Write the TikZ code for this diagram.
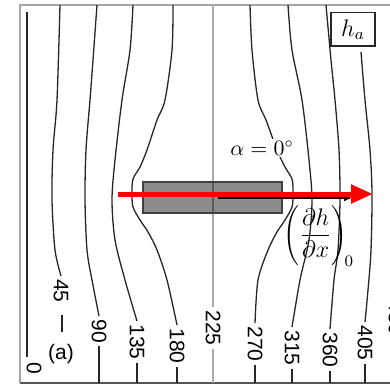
\documentclass[tikz,border=0pt]{standalone}
\usepackage{fontspec}
\setmainfont{Liberation Sans}
\usetikzlibrary{arrows.meta}
\definecolor{framegray}{RGB}{165,165,165}
\definecolor{basegray}{RGB}{85,85,85}
\definecolor{axisgray}{RGB}{170,170,170}
\definecolor{flowred}{RGB}{255,0,0}

\begin{document}
\begin{tikzpicture}[
  x=0.5pt,y=-0.5pt,
  font=\fontsize{10.5}{12}\selectfont,
  contour/.style={draw=black!85,line width=0.65pt},
  axisline/.style={draw=axisgray,line width=1.2pt},
  isolabel/.style={rotate=-90,inner sep=1.5pt},
  slab/.style={rectangle,draw=black!75,line width=0.8pt,fill=black,fill opacity=0.45,
    minimum width=69.5pt,minimum height=15.5pt},
  tagbox/.style={rectangle,draw=black!85,line width=0.8pt,
    minimum width=22pt,minimum height=16.5pt,font=\fontsize{12}{14}\selectfont},
  flow/.style={draw=flowred,line width=2.5pt,-{Triangle[length=11pt,width=9pt]}},
  dirarr/.style={draw=black,line width=0.6pt,-{Latex[length=4pt,width=3.5pt]}}
]
\useasboundingbox (0,0) rectangle (390,385);

% frame of the plot
\coordinate (base) at (0,383);
\draw[framegray,line width=1pt] (420,5) -- (20,5) -- (20,383);
\draw[basegray,line width=1pt] (20,383) -- (420,383);

% contour labels
\node[isolabel] (l0) at (34,368) {0};
\node[isolabel] (l45) at (61,291) {45};
\node[isolabel] (l90) at (99,331) {90};
\node[isolabel] (l135) at (137,342) {135};
\node[isolabel] (l180) at (177,346) {180};
\node[isolabel] (l225) at (213,328) {225};
\node[isolabel] (l270) at (255,344) {270};
\node[isolabel] (l315) at (292,348) {315};
\node[isolabel] (l360) at (330,350) {360};
\node[isolabel] (l405) at (365,343) {405};
\node[isolabel] (l450) at (396,318) {450};
\node (tag) at (61,354) {(a)};
\node[tagbox] (hbox) at (353,29.5) {$h_a$};

% contours, left half
\draw[contour] (27,12) -- (27,357);
\draw[contour] plot[smooth] coordinates {(60,5) (57,100) (53,150) (52,200) (55,250) (l45.west)};
\draw[contour] (62,315) -- (62,332);
\draw[contour] plot[smooth] coordinates {(97,5) (93,60) (90,100) (86,150) (85,200) (87,250) (92,280) (l90.west)};
\draw[contour] (l90.east) -- (l90.east |- base);
\draw[contour] plot[smooth] coordinates {(133,5) (130,50) (122,100) (115,160) (112,200) (115,240) (125,280) (l135.west)};
\draw[contour] (l135.east) -- (l135.east |- base);
\draw[contour] plot[smooth] coordinates {(173,5) (172,50) (165,100) (157,120) (147,150) (140,167)
  (133,179) (132,193) (133,207) (140,220) (148,232) (157,250) (167,280) (l180.west)};
\draw[contour] (l180.east) -- (l180.east |- base);

% middle line
\draw[axisline] (213,5) -- (l225.west);
\draw[axisline] (l225.east) -- (l225.east |- base);

% contours, right half
\draw[contour] plot[smooth] coordinates {(250,5) (252,50) (258,100) (266,120) (277,150) (285,167)
  (292,179) (293,193) (292,207) (285,220) (277,232) (268,250) (258,280) (l270.west)};
\draw[contour] (l270.east) -- (l270.east |- base);
\draw[contour] plot[smooth] coordinates {(288,5) (292,50) (302,100) (309,160) (312,200) (309,240) (300,280) (l315.west)};
\draw[contour] (l315.east) -- (l315.east |- base);
\draw[contour] plot[smooth] coordinates {(326,5) (331,60) (335,100) (339,150) (340,200) (338,250) (334,280) (l360.west)};
\draw[contour] (l360.east) -- (l360.east |- base);
\draw[contour] plot[smooth] coordinates {(361,52) (365,100) (370,150) (372,193) (371,250) (368,290) (l405.west)};
\draw[contour] (l405.east) -- (l405.east |- base);

% slab and flow direction
\node[slab] (slab) at (212.5,197.5) {};
\coordinate (dirin) at (218,198);
\coordinate (dirout) at (352,198);
\draw[dirarr] (dirin) -- (dirout);
\coordinate (flowin) at (118,194);
\coordinate (flowout) at (373,194);
\draw[flow] (flowin) -- (flowout);

\node[fill=white,inner sep=1pt] (alpha) at (262,148) {$\alpha = 0^\circ$};
\node[font=\fontsize{12}{14}\selectfont] (slope) at (319,236) {$\displaystyle\left(\frac{\partial h}{\partial x}\right)_{\!0}$};
\end{tikzpicture}
\end{document}
